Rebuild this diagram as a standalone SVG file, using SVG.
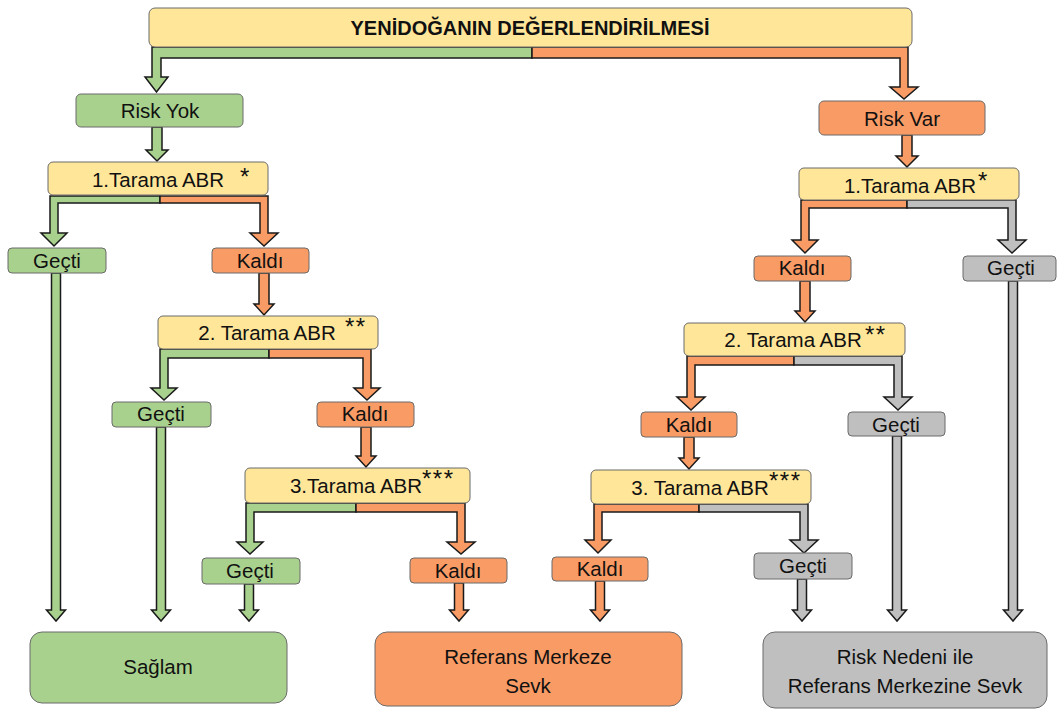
<svg xmlns="http://www.w3.org/2000/svg" width="1057" height="709" viewBox="0 0 1057 709">
<style>
.n{stroke:#6b6b6b;stroke-width:1}
.y{fill:#FFE699}
.g{fill:#A9D18E}
.o{fill:#F99B65}
.s{fill:#BFBFBF}
.ag{fill:#A9D18E;stroke:#1a1a1a;stroke-width:1.5;stroke-linejoin:miter}
.ao{fill:#F99B65;stroke:#1a1a1a;stroke-width:1.5;stroke-linejoin:miter}
.as{fill:#BFBFBF;stroke:#1a1a1a;stroke-width:1.5;stroke-linejoin:miter}
text{font-family:"Liberation Sans",Arial,sans-serif;font-size:20.5px;fill:#111;text-anchor:middle}
.t{font-weight:bold;font-size:20px}
.st{font-size:24px;text-anchor:start;letter-spacing:1.5px}
</style>
<rect width="1057" height="709" fill="#fff"/>
<g id="connectors">
<path class="ag" d="M532,47 H152 V77 H145 L156.5,92 L168,77 H161 V58 H532 Z"/>
<path class="ao" d="M532,47 H908 V87 H918 L904,99 L890,87 H900 V58 H532 Z"/>
<path class="ag" d="M152,127 V150 H146 L157,161 L168,150 H162 V127 Z"/>
<path class="ao" d="M902,135 V156 H896 L907,167 L918,156 H912 V135 Z"/>
<path class="ag" d="M160,196 H50 V233 H41 L54,246 L67,233 H58 V203 H160 Z"/>
<path class="ao" d="M160,196 H268 V233 H278 L264,246 L250,233 H260 V203 H160 Z"/>
<path class="ao" d="M259,273 V304 H254 L264,315 L274,304 H269 V273 Z"/>
<path class="ag" d="M269,349 H160 V388 H151 L164,400 L177,388 H168 V358 H269 Z"/>
<path class="ao" d="M269,349 H371 V388 H380 L367,400 L354,388 H363 V358 H269 Z"/>
<path class="ao" d="M361,427 V456 H356 L366,467 L376,456 H371 V427 Z"/>
<path class="ag" d="M356,503 H246 V542 H237 L250,554 L263,542 H254 V512 H356 Z"/>
<path class="ao" d="M356,503 H465 V542 H475 L461,554 L447,542 H457 V512 H356 Z"/>
<path class="ao" d="M907,200 H801 V240 H792 L805,253 L818,240 H809 V208 H907 Z"/>
<path class="as" d="M907,200 H1016 V240 H1026 L1012,253 L998,240 H1008 V208 H907 Z"/>
<path class="ao" d="M800,281 V311 H795 L805,322 L815,311 H810 V281 Z"/>
<path class="ao" d="M794,356 H687 V397 H677 L691,410 L705,397 H695 V365 H794 Z"/>
<path class="as" d="M794,356 H902 V397 H912 L898,410 L884,397 H894 V365 H794 Z"/>
<path class="ao" d="M684,437 V458 H679 L689,469 L699,458 H694 V437 Z"/>
<path class="ao" d="M699,504 H594 V540 H585 L598,553 L611,540 H602 V512 H699 Z"/>
<path class="as" d="M699,504 H808 V540 H818 L804,553 L790,540 H800 V512 H699 Z"/>
<path class="ag" d="M51.5,273 V610 H46.5 L56,621 L65.5,610 H60.5 V273 Z"/>
<path class="ag" d="M156.5,427 V610 H151.5 L161,621 L170.5,610 H165.5 V427 Z"/>
<path class="ag" d="M244.5,584 V610 H239.5 L249,621 L258.5,610 H253.5 V584 Z"/>
<path class="ao" d="M454.5,583 V610 H449.5 L459,621 L468.5,610 H463.5 V583 Z"/>
<path class="ao" d="M595.5,581 V610 H590.5 L600,621 L609.5,610 H604.5 V581 Z"/>
<path class="as" d="M797.5,579 V610 H792.5 L802,621 L811.5,610 H806.5 V579 Z"/>
<path class="as" d="M892.5,436 V610 H887.5 L897,621 L906.5,610 H901.5 V436 Z"/>
<path class="as" d="M1008.5,281 V610 H1003.5 L1013,621 L1022.5,610 H1017.5 V281 Z"/>
</g>
<g id="title"><rect class="n y" x="149" y="8" width="763" height="39" rx="6"/><text class="t" x="530" y="35">YENİDOĞANIN DEĞERLENDİRİLMESİ</text></g>
<g id="riskyok"><rect class="n g" x="76" y="94" width="167" height="33" rx="5"/><text x="160" y="118">Risk Yok</text></g>
<g id="riskvar"><rect class="n o" x="819" y="101" width="166" height="34" rx="5"/><text x="902" y="126">Risk Var</text></g>
<g id="tarama1L"><rect class="n y" x="48" y="162" width="220" height="33" rx="5"/><text x="158" y="187">1.Tarama ABR</text><text class="st" x="240" y="185">*</text></g>
<g id="gecti1L"><rect class="n g" x="8" y="248" width="98" height="25" rx="4"/><text x="57" y="268">Geçti</text></g>
<g id="kaldi1L"><rect class="n o" x="212" y="248" width="97" height="25" rx="4"/><text x="260" y="268">Kaldı</text></g>
<g id="tarama2L"><rect class="n y" x="158" y="316" width="220" height="33" rx="5"/><text x="267" y="340">2. Tarama ABR</text><text class="st" x="345" y="335">**</text></g>
<g id="gecti2L"><rect class="n g" x="112" y="402" width="99" height="25" rx="4"/><text x="161" y="421">Geçti</text></g>
<g id="kaldi2L"><rect class="n o" x="317" y="402" width="97" height="25" rx="4"/><text x="365" y="421">Kaldı</text></g>
<g id="tarama3L"><rect class="n y" x="245" y="468" width="225" height="35" rx="5"/><text x="356" y="493">3.Tarama ABR</text><text class="st" x="422" y="487">***</text></g>
<g id="gecti3L"><rect class="n g" x="202" y="558" width="98" height="26" rx="4"/><text x="250" y="578">Geçti</text></g>
<g id="kaldi3L"><rect class="n o" x="410" y="558" width="97" height="25" rx="4"/><text x="458" y="578">Kaldı</text></g>
<g id="tarama1R"><rect class="n y" x="799" y="168" width="220" height="32" rx="5"/><text x="910" y="193">1.Tarama ABR</text><text class="st" x="978" y="189">*</text></g>
<g id="kaldi1R"><rect class="n o" x="754" y="256" width="97" height="25" rx="4"/><text x="802" y="275">Kaldı</text></g>
<g id="gecti1R"><rect class="n s" x="963" y="256" width="93" height="25" rx="4"/><text x="1011" y="275">Geçti</text></g>
<g id="tarama2R"><rect class="n y" x="684" y="323" width="221" height="33" rx="5"/><text x="793" y="347">2. Tarama ABR</text><text class="st" x="865" y="343">**</text></g>
<g id="kaldi2R"><rect class="n o" x="641" y="412" width="96" height="25" rx="4"/><text x="689" y="432">Kaldı</text></g>
<g id="gecti2R"><rect class="n s" x="848" y="412" width="97" height="24" rx="4"/><text x="896" y="432">Geçti</text></g>
<g id="tarama3R"><rect class="n y" x="591" y="470" width="220" height="34" rx="5"/><text x="700" y="495">3. Tarama ABR</text><text class="st" x="769" y="489">***</text></g>
<g id="kaldi3R"><rect class="n o" x="552" y="557" width="96" height="24" rx="4"/><text x="600" y="576">Kaldı</text></g>
<g id="gecti3R"><rect class="n s" x="754" y="553" width="98" height="26" rx="4"/><text x="803" y="573">Geçti</text></g>
<g id="saglam"><rect class="n g" x="30" y="632" width="257" height="71" rx="12"/><text x="158" y="674">Sağlam</text></g>
<g id="referans"><rect class="n o" x="375" y="632" width="307" height="74" rx="12"/><text x="528" y="664">Referans Merkeze</text><text x="528" y="693">Sevk</text></g>
<g id="risknedeni"><rect class="n s" x="763" y="632" width="284" height="76" rx="12"/><text x="905" y="664">Risk Nedeni ile</text><text x="905" y="693">Referans Merkezine Sevk</text></g>
</svg>
